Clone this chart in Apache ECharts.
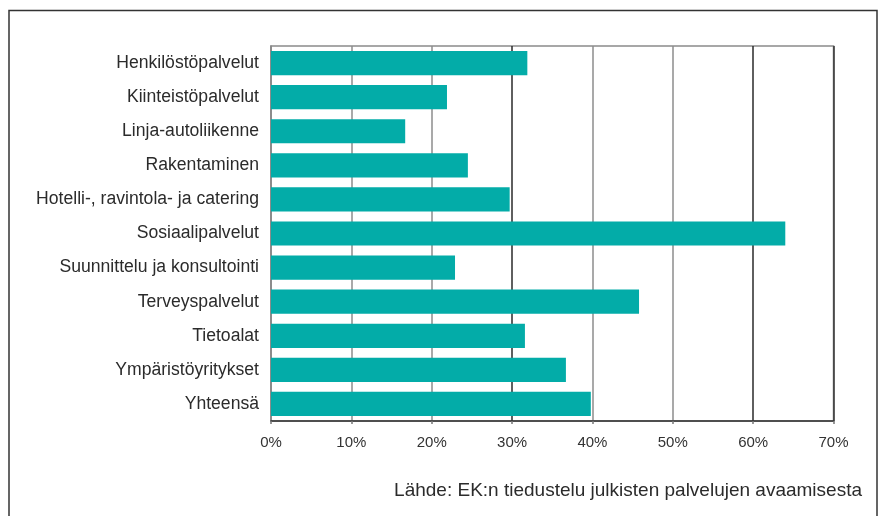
<!DOCTYPE html>
<html>
<head>
<meta charset="utf-8">
<style>
  html, body { margin: 0; padding: 0; background: #ffffff; }
  #chart { width: 880px; height: 516px; }
</style>
<script src="https://cdn.jsdelivr.net/npm/echarts@6/dist/echarts.min.js"></script>
</head>
<body>
<div id="chart"></div>
<script>
// Toimialat ja osuudet (%)
const categories = [
  'Henkilöstöpalvelut',
  'Kiinteistöpalvelut',
  'Linja-autoliikenne',
  'Rakentaminen',
  'Hotelli-, ravintola- ja catering',
  'Sosiaalipalvelut',
  'Suunnittelu ja konsultointi',
  'Terveyspalvelut',
  'Tietoalat',
  'Ympäristöyritykset',
  'Yhteensä'
];
const shares = [31.9, 21.9, 16.7, 24.5, 29.7, 64.0, 22.9, 45.8, 31.6, 36.7, 39.8];
const axisMin = 0;
const axisMax = 70;
const axisStep = 10;
const sourceText = 'Lähde: EK:n tiedustelu julkisten palvelujen avaamisesta';

const FONT = '"Liberation Sans", Arial, Helvetica, sans-serif';
const chart = echarts.init(document.getElementById('chart'), null, { renderer: 'canvas' });

chart.setOption({
  animation: false,
  backgroundColor: '#ffffff',
  grid: {
    left: 271, right: 46.5, top: 46, bottom: 95,
    show: true, borderColor: '#8a8a8a', borderWidth: 1.5, containLabel: false
  },
  xAxis: {
    type: 'value',
    min: axisMin, max: axisMax, interval: axisStep,
    axisLine: { show: true, lineStyle: { color: '#333333', width: 1.5 } },
    axisTick: { show: true, length: 3, lineStyle: { color: '#777777', width: 1.5 } },
    axisLabel: {
      margin: 14, color: '#333333', fontFamily: FONT, fontSize: 15,
      formatter: v => v + '%'
    },
    splitLine: {
      show: true,
      lineStyle: {
        width: 1.5,
        color: ['#8c8c8c', '#8c8c8c', '#8c8c8c', '#2a2a2a', '#8c8c8c', '#8c8c8c', '#2a2a2a', '#333333']
      }
    }
  },
  yAxis: {
    type: 'category',
    data: categories,
    inverse: true,
    axisLine: { show: true, lineStyle: { color: '#8a8a8a', width: 1.5 } },
    axisTick: { show: false },
    axisLabel: { margin: 12, color: '#2b2b2b', fontFamily: FONT, fontSize: 17.6 },
    splitLine: { show: false }
  },
  series: [{
    type: 'bar',
    data: shares,
    barWidth: '71%',
    itemStyle: { color: '#03aca8' },
    z: 3
  }],
  graphic: [
    {
      type: 'rect',
      shape: { x: 9, y: 10.5, width: 868, height: 600 },
      style: { fill: 'none', stroke: '#333333', lineWidth: 1.5 },
      silent: true
    },
    {
      type: 'text',
      right: 18, top: 481,
      style: {
        text: sourceText,
        fill: '#2b2b2b',
        font: '19px ' + FONT,
        textAlign: 'right'
      }
    }
  ]
});
</script>
</body>
</html>
